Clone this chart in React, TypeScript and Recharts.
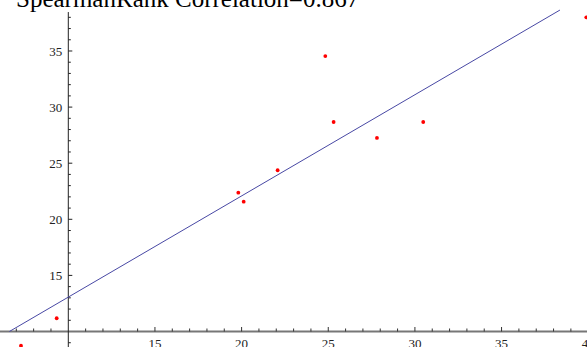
import React from 'react';
import { ScatterChart, Scatter, XAxis, YAxis, ReferenceDot, ReferenceLine } from 'recharts';

// observed points (x, y)
const xVals = [7.27, 9.33, 19.81, 20.12, 22.08, 24.83, 25.31, 27.81, 30.48, 39.89];
const yVals = [8.73, 11.18, 22.37, 21.57, 24.37, 34.55, 28.67, 27.25, 28.67, 38.0];

// fitted line end points
const fitX = [6.6, 38.37];
const fitY = [10.0, 38.65];

const xTicks = [7, 8, 9, 11, 12, 13, 14, 15, 16, 17, 18, 19, 20, 21, 22, 23, 24, 25, 26, 27, 28, 29, 30, 31, 32, 33, 34, 35, 36, 37, 38, 39, 40];
const yTicks = [9, 11, 12, 13, 14, 15, 16, 17, 18, 19, 20, 21, 22, 23, 24, 25, 26, 27, 28, 29, 30, 31, 32, 33, 34, 35, 36, 37, 38];
const majorLabels = [15, 20, 25, 30, 35, 40];

const title = 'SpearmanRank Correlation=0.867';

const points = xVals.map((x, i) => ({ x, y: yVals[i] }));
const fitLine = fitX.map((x, i) => ({ x, y: fitY[i] }));

const W = 587;
const H = 347;
const font = "'Liberation Serif', 'Times New Roman', serif";

const redDot = (p: any) => <circle cx={p.cx} cy={p.cy} r={1.9} fill="#ff0000" />;
const noDot = () => <g />;

const xTickShape = (major: boolean, t: number) => (p: any) => (
  <g>
    <line x1={p.cx} x2={p.cx} y1={p.cy} y2={p.cy - (major ? 4.5 : 3)} stroke="#333" strokeWidth={1} />
    {major && (
      <text x={p.cx} y={p.cy + 16} textAnchor="middle" fontFamily={font} fontSize={13} fill="#222">
        {t}
      </text>
    )}
  </g>
);

const yTickShape = (major: boolean, t: number) => (p: any) => (
  <g>
    <line x1={p.cx} x2={p.cx + (major ? 4 : 2.5)} y1={p.cy} y2={p.cy} stroke="#222" strokeWidth={1} />
    {major && (
      <text x={p.cx - 6} y={p.cy} dy="0.35em" textAnchor="end" fontFamily={font} fontSize={13} fill="#222">
        {t}
      </text>
    )}
  </g>
);

export default function App() {
  return (
    <div style={{ position: 'absolute', left: 0, top: 0, width: W, height: H, overflow: 'hidden', background: '#fff' }}>
      <ScatterChart width={W} height={H} margin={{ top: 0, right: 0, bottom: 0, left: 0 }}>
        <XAxis type="number" dataKey="x" hide domain={[6.059, 39.93]} allowDataOverflow />
        <YAxis type="number" dataKey="y" hide domain={[8.619, 39.545]} allowDataOverflow />
        <ReferenceLine y={10} stroke="#777" strokeWidth={2} ifOverflow="visible" />
        <ReferenceLine
          segment={[{ x: 10, y: 8.0 }, { x: 10, y: 38.47 }]}
          stroke="#222"
          strokeWidth={1}
          ifOverflow="visible"
        />
        {xTicks.map((t) => (
          <ReferenceDot
            key={'xt' + t}
            x={t}
            y={10}
            r={0}
            ifOverflow="visible"
            shape={xTickShape(majorLabels.includes(t), t)}
          />
        ))}
        {yTicks.map((t) => (
          <ReferenceDot
            key={'yt' + t}
            x={10}
            y={t}
            r={0}
            ifOverflow="visible"
            shape={yTickShape(t % 5 === 0, t)}
          />
        ))}
        <Scatter
          data={fitLine}
          line={{ stroke: '#4848a4', strokeWidth: 1 }}
          shape={noDot}
          isAnimationActive={false}
        />
        <Scatter data={points} shape={redDot} isAnimationActive={false} />
      </ScatterChart>
      <div
        style={{
          position: 'absolute',
          left: 16,
          top: -14,
          fontFamily: font,
          fontSize: 25,
          lineHeight: '25px',
          color: '#000',
          whiteSpace: 'nowrap',
        }}
      >
        {title}
      </div>
    </div>
  );
}
